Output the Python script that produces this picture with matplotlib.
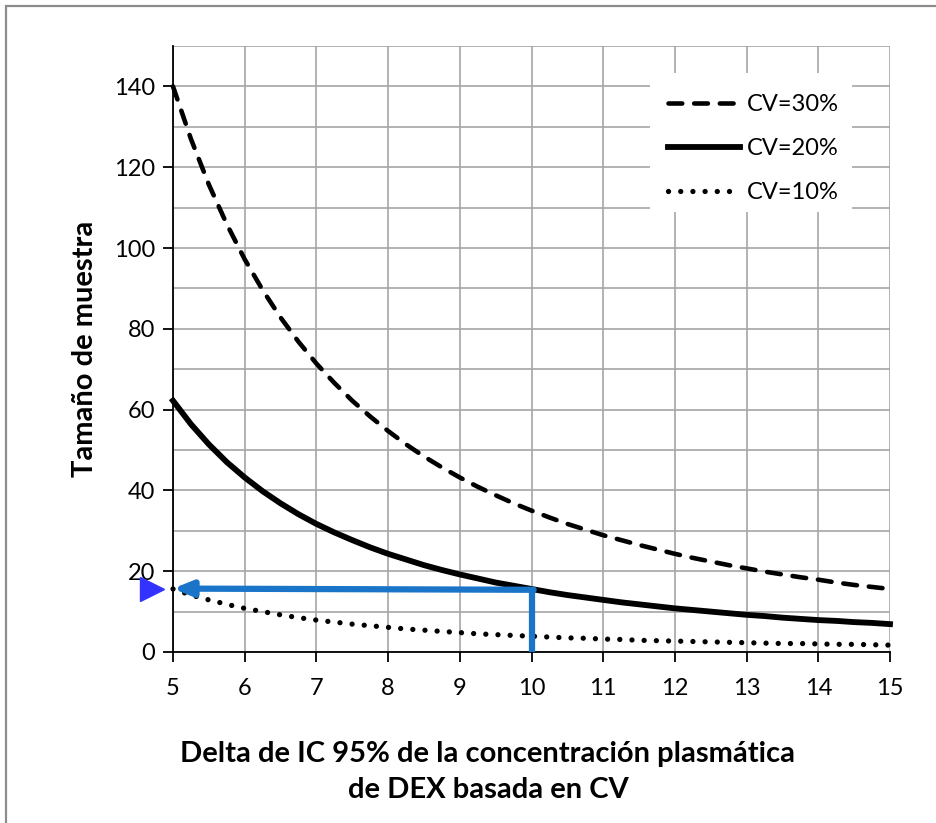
import matplotlib
matplotlib.use("Agg")
import matplotlib.pyplot as plt
from matplotlib.patches import Rectangle
from matplotlib.ticker import MultipleLocator

plt.rcParams['font.family'] = ['Lato', 'DejaVu Sans']

delta = [5, 5.25, 5.5, 5.75, 6, 6.25, 6.5, 6.75, 7, 7.25, 7.5, 7.75, 8, 8.25,
         8.5, 8.75, 9, 9.25, 9.5, 9.75, 10, 10.25, 10.5, 10.75, 11, 11.25,
         11.5, 11.75, 12, 12.25, 12.5, 12.75, 13, 13.25, 13.5, 13.75, 14,
         14.25, 14.5, 14.75, 15]
cv30 = [140, 127.0, 115.7, 105.9, 97.2, 89.6, 82.8, 76.8, 71.4, 66.6, 62.2,
        58.3, 54.7, 51.4, 48.4, 45.7, 43.2, 40.9, 38.8, 36.8, 35.0, 33.3,
        31.7, 30.3, 28.9, 27.7, 26.5, 25.4, 24.3, 23.3, 22.4, 21.5, 20.7,
        19.9, 19.2, 18.5, 17.9, 17.2, 16.6, 16.1, 15.6]
cv20 = [62.2, 56.4, 51.4, 47.0, 43.2, 39.8, 36.8, 34.1, 31.7, 29.6, 27.7,
        25.9, 24.3, 22.9, 21.5, 20.3, 19.2, 18.2, 17.2, 16.4, 15.6, 14.8,
        14.1, 13.5, 12.9, 12.3, 11.8, 11.3, 10.8, 10.4, 10.0, 9.6, 9.2, 8.9,
        8.5, 8.2, 7.9, 7.7, 7.4, 7.2, 6.9]
cv10 = [15.6, 14.1, 12.9, 11.8, 10.8, 10.0, 9.2, 8.5, 7.9, 7.4, 6.9, 6.5,
        6.1, 5.7, 5.4, 5.1, 4.8, 4.5, 4.3, 4.1, 3.9, 3.7, 3.5, 3.4, 3.2, 3.1,
        2.9, 2.8, 2.7, 2.6, 2.5, 2.4, 2.3, 2.2, 2.1, 2.1, 2.0, 1.9, 1.9, 1.8,
        1.7]
labels = ["CV=30%", "CV=20%", "CV=10%"]
arrow_x = 10
arrow_y = 15.4
marker_x = 4.71

fig = plt.figure(figsize=(9.37, 8.23), dpi=100)
fig.patch.set_facecolor('white')
# outer frame
fig.add_artist(Rectangle((6/937, -0.1), 1.2, 1 - 6/823 + 0.1, transform=fig.transFigure,
                         fill=False, edgecolor='#8c8c8c', linewidth=1.6))

ax = fig.add_axes([173/937, 1 - 652/823, (890-173)/937, (652-46)/823])
ax.set_xlim(5, 15)
ax.set_ylim(0, 150)
ax.xaxis.set_major_locator(MultipleLocator(1))
ax.set_yticks(range(0, 141, 20))
ax.yaxis.set_minor_locator(MultipleLocator(10))
ax.grid(True, which='both', color='#a6a6a6', linewidth=1.2, zorder=0)
ax.set_axisbelow(True)
for s in ['top', 'right']:
    ax.spines[s].set_visible(False)
ax.spines['left'].set_color('black')
ax.spines['bottom'].set_color('black')
ax.spines['left'].set_linewidth(1.3)
ax.spines['bottom'].set_linewidth(1.3)
ax.tick_params(axis='both', which='major', direction='out', length=7, width=1.3,
               labelsize=17, pad=6)
ax.tick_params(axis='y', which='minor', length=0)
ax.tick_params(axis='x', pad=12)

# white legend background (covers grid)
ax.add_patch(Rectangle((0.665, 0.726), 0.282, 0.229, transform=ax.transAxes,
                       facecolor='white', edgecolor='none', zorder=1))

l30, = ax.plot(delta, cv30, color='black', linewidth=3.3, linestyle=(0, (3.0, 2.6)),
               dash_capstyle='round', label=labels[0], clip_on=False, zorder=3)
l20, = ax.plot(delta, cv20, color='black', linewidth=4.2, linestyle='-',
               label=labels[1], clip_on=False, zorder=3)
l10, = ax.plot(delta, cv10, color='black', linewidth=3.8, linestyle=(0, (0.01, 2.3)),
               dash_capstyle='round', label=labels[2], clip_on=False, zorder=3)

# blue arrow annotation
ax.plot([arrow_x, arrow_x], [0, arrow_y], color='#1a75c9', linewidth=4.5,
        solid_capstyle='butt', zorder=5)
ax.annotate('', xy=(5.0, arrow_y + 0.3), xytext=(arrow_x + 0.03, arrow_y),
            arrowprops=dict(arrowstyle='-|>,head_length=1.1,head_width=0.45',
                            color='#1a75c9', linewidth=4.5, shrinkA=0, shrinkB=0),
            zorder=6)
ax.plot([marker_x], [arrow_y + 0.3], marker='>', markersize=17, color='#3333ff',
        clip_on=False, zorder=7)

leg = ax.legend(handles=[l30, l20, l10], loc='upper left',
                bbox_to_anchor=((668 - 173) / 717, (652 - 94) / 606), fontsize=17,
                frameon=False, handlelength=3.05, handletextpad=0.3,
                labelspacing=0.97, borderpad=0, borderaxespad=0)
leg.set_zorder(4)

ax.set_ylabel('Tamaño de muestra', fontsize=21, fontweight='bold', labelpad=11)
ax.set_xlabel('Delta de IC 95% de la concentración plasmática\nde DEX basada en CV',
              fontsize=21, fontweight='bold', labelpad=30, linespacing=1.45)
ax.xaxis.label.set_x((488 - 173) / 717)

fig.savefig('out.png', dpi=100, facecolor='white')
